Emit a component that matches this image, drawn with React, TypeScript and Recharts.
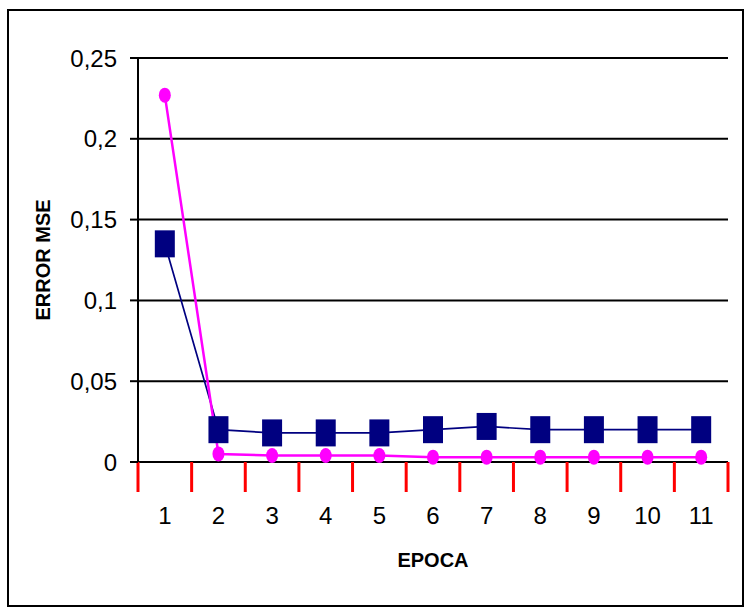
import React from "react";
import {
  LineChart,
  Line,
  XAxis,
  YAxis,
  CartesianGrid,
} from "recharts";

// Training epochs and MSE per epoch for the two error series
const epochs = [1, 2, 3, 4, 5, 6, 7, 8, 9, 10, 11];
const errorNavy = [0.135, 0.02, 0.018, 0.018, 0.018, 0.02, 0.022, 0.02, 0.02, 0.02, 0.02];
const errorMagenta = [0.227, 0.005, 0.004, 0.004, 0.004, 0.003, 0.003, 0.003, 0.003, 0.003, 0.003];

const yTicks = [0, 0.05, 0.1, 0.15, 0.2, 0.25];
const yTickLabels = ["0", "0,05", "0,1", "0,15", "0,2", "0,25"];
// Tick marks sit on the category boundaries, labels in between
const boundaryTicks = [0.5, 1.5, 2.5, 3.5, 4.5, 5.5, 6.5, 7.5, 8.5, 9.5, 10.5, 11.5];

const data = epochs.map((e, i) => ({
  epoch: e,
  navy: errorNavy[i],
  magenta: errorMagenta[i],
}));

const NAVY = "#000080";
const MAGENTA = "#FF00FF";
const FONT = "Arial, 'Liberation Sans', Helvetica, sans-serif";
const X_TICK_SIZE = 30;
const X_TICK_MARGIN = 15;

const SquareDot = (props: any) => {
  const { cx, cy } = props;
  if (cx == null || cy == null) return null;
  return <rect x={cx - 10} y={cy - 13.5} width={20} height={27} fill={NAVY} />;
};

const EllipseDot = (props: any) => {
  const { cx, cy } = props;
  if (cx == null || cy == null) return null;
  return <ellipse cx={cx} cy={cy} rx={6} ry={7.5} fill={MAGENTA} />;
};

// Category label halfway between this boundary and the next one
const EpochTick = (props: any) => {
  const x = Number(props.x);
  const y = Number(props.y);
  const index = Number(props.index);
  if (!isFinite(x) || !isFinite(y) || index >= epochs.length) return <g />;
  const step = (Number(props.width) || 0) / epochs.length;
  return (
    <text
      x={x + step / 2}
      y={y}
      dy="0.71em"
      textAnchor="middle"
      fontFamily={FONT}
      fontSize={24}
      fill="#000"
      stroke="none"
    >
      {epochs[index]}
    </text>
  );
};

const YTitle = (props: any) => {
  const vb = props.viewBox || {};
  const x = (vb.x ?? 0) + 43;
  const y = (vb.y ?? 0) + (vb.height ?? 0) / 2;
  return (
    <text
      x={x}
      y={y}
      transform={`rotate(-90, ${x}, ${y})`}
      textAnchor="middle"
      dominantBaseline="central"
      fontFamily={FONT}
      fontWeight="bold"
      fontSize={20}
      fill="#000"
    >
      ERROR MSE
    </text>
  );
};

export default function App() {
  return (
    <div style={{ position: "absolute", left: 0, top: 0, width: 745, height: 609, background: "#fff" }}>
      <div
        style={{
          position: "absolute",
          left: 7,
          top: 9,
          width: 733,
          height: 594,
          border: "2.5px solid #000",
        }}
      />
      <LineChart
        width={745}
        height={609}
        data={data}
        margin={{ top: 58, right: 17, left: 0, bottom: 0 }}
        style={{ position: "absolute", left: 0, top: 0 }}
      >
        <CartesianGrid vertical={false} stroke="#000" strokeWidth={2} yAxisId="left" xAxisId="main" />
        <XAxis
          xAxisId="main"
          dataKey="epoch"
          type="number"
          domain={[0.5, 11.5]}
          allowDataOverflow
          ticks={boundaryTicks}
          interval={0}
          tickSize={X_TICK_SIZE}
          tickMargin={X_TICK_MARGIN}
          stroke="#ff0000"
          tickLine={{ stroke: "#ff0000", strokeWidth: 3 }}
          axisLine={{ stroke: "#000", strokeWidth: 2 }}
          tick={<EpochTick />}
          height={147}
          label={{
            value: "EPOCA",
            position: "insideBottom",
            offset: 42,
            fill: "#000",
            fontSize: 20,
            fontWeight: "bold",
            fontFamily: FONT,
          }}
        />
        <YAxis
          yAxisId="left"
          type="number"
          domain={[0, 0.25]}
          ticks={yTicks}
          interval={0}
          width={138}
          tickSize={8}
          tickMargin={13}
          tickFormatter={(v: number) => yTickLabels[yTicks.indexOf(v)] ?? String(v)}
          axisLine={{ stroke: "#000", strokeWidth: 2 }}
          tickLine={{ stroke: "#000", strokeWidth: 2 }}
          tick={{ fill: "#000", fontSize: 24, fontFamily: FONT }}
          label={<YTitle />}
        />
        <YAxis
          yAxisId="right"
          orientation="right"
          domain={[0, 0.25]}
          width={0}
          tick={false}
          tickLine={false}
          axisLine={{ stroke: "#000", strokeWidth: 2 }}
        />
        <Line
          xAxisId="main"
          yAxisId="left"
          dataKey="navy"
          stroke={NAVY}
          strokeWidth={1.7}
          dot={<SquareDot />}
          activeDot={false}
          isAnimationActive={false}
        />
        <Line
          xAxisId="main"
          yAxisId="left"
          dataKey="magenta"
          stroke={MAGENTA}
          strokeWidth={2.5}
          dot={<EllipseDot />}
          activeDot={false}
          isAnimationActive={false}
        />
      </LineChart>
    </div>
  );
}
